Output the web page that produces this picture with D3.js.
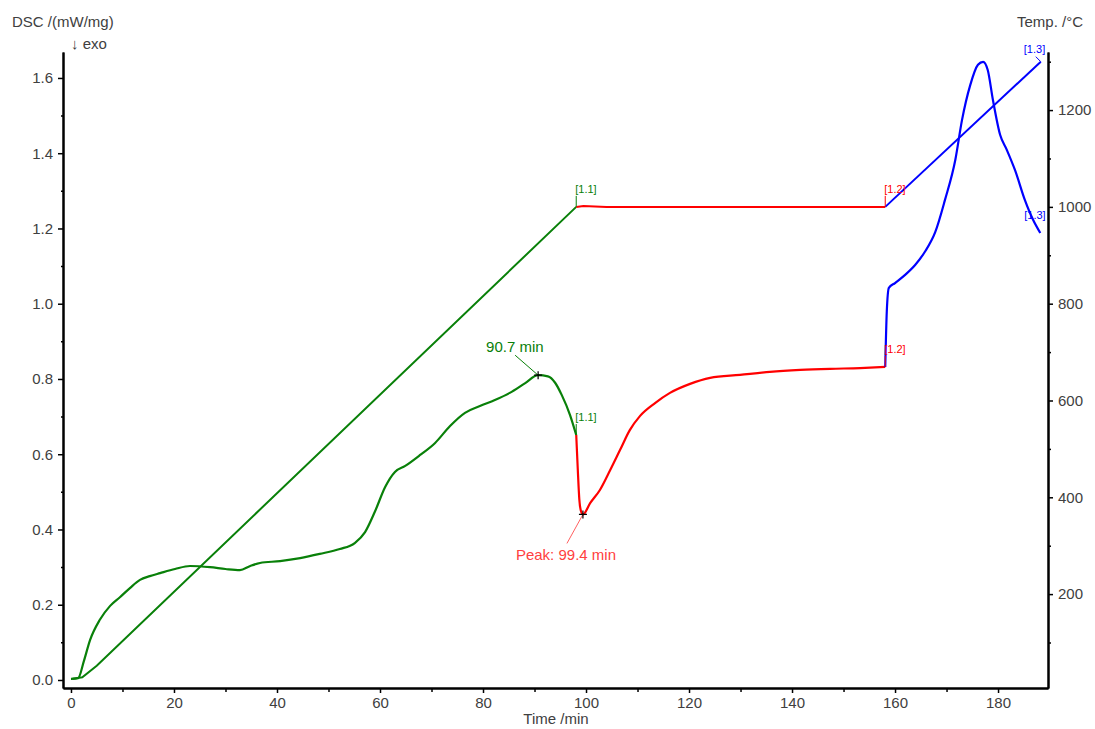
<!DOCTYPE html>
<html>
<head>
<meta charset="utf-8">
<script src="https://cdn.jsdelivr.net/npm/d3@7"></script>
<style>
  body { margin: 0; background: #fff; }
  svg text { font-family: "Liberation Sans", Arial, sans-serif; }
</style>
</head>
<body>
<div id="chart"></div>
<script>
'use strict';

// DSC segment 1.1 (heating), green
let seg1_t   = [0, 1.4, 2.5, 3.7, 5.6, 7.6, 9.5, 11.5, 13.4, 15.3, 17.3, 20.2, 23.1, 27, 30, 32.8, 34.8, 36.7, 40.6, 44.5, 48.3, 52.2, 55.1, 57.1, 59, 61, 62.9, 64.9, 67.8, 70.7, 73.6, 76.5, 79.4, 82.3, 85.2, 88.2, 90.7, 92.6, 94, 95.3, 96.9, 98.1];
let seg1_dsc = [0.003, 0.005, 0.05, 0.106, 0.16, 0.197, 0.22, 0.245, 0.266, 0.276, 0.284, 0.295, 0.303, 0.30, 0.295, 0.292, 0.303, 0.311, 0.316, 0.324, 0.335, 0.348, 0.364, 0.393, 0.447, 0.513, 0.553, 0.569, 0.598, 0.63, 0.675, 0.71, 0.728, 0.744, 0.763, 0.789, 0.81, 0.807, 0.79, 0.757, 0.704, 0.651];

// segment 1.2 (isothermal), red
let seg2_t   = [98.1, 98.4, 98.7, 99.0, 99.4, 100.8, 102.7, 104.7, 106.6, 108.5, 110.5, 113.4, 116.3, 120.2, 124.1, 129.9, 135.7, 141.6, 147.4, 153.2, 158.1];
let seg2_dsc = [0.651, 0.56, 0.48, 0.45, 0.44, 0.47, 0.505, 0.558, 0.611, 0.664, 0.702, 0.736, 0.763, 0.787, 0.803, 0.811, 0.819, 0.824, 0.827, 0.829, 0.832];

// segment 1.3 (heating), blue
let seg3_t   = [158.1, 158.4, 158.8, 160, 161.9, 163.9, 165.8, 167.8, 169.7, 171.7, 173, 174.6, 176.1, 177.1, 178, 179, 180.4, 181.7, 183.3, 185.2, 186.8, 188.2];
let seg3_dsc = [0.832, 0.98, 1.042, 1.055, 1.076, 1.103, 1.138, 1.19, 1.276, 1.382, 1.488, 1.581, 1.635, 1.643, 1.621, 1.542, 1.449, 1.409, 1.355, 1.276, 1.223, 1.188];

// temperature program
let temp1_t = [0.3, 2.2, 5, 98.1];
let temp1_T = [25, 28, 52, 1000];
let temp2_t = [98.1, 99.5, 104, 158.1];
let temp2_T = [1000, 1002, 1000, 1000];
let temp3_t = [158.1, 188.3];
let temp3_T = [1000, 1300];

let x_ticks = [0, 20, 40, 60, 80, 100, 120, 140, 160, 180];
let dsc_ticks = [0, 0.2, 0.4, 0.6, 0.8, 1.0, 1.2, 1.4, 1.6];
let temp_ticks = [200, 400, 600, 800, 1000, 1200];

let width = 1095, height = 729;
let green = '#098009', red = '#ff0000', blue = '#0000ff', txt = '#404040';

let svg = d3.select('#chart').append('svg')
    .attr('width', width)
    .attr('height', height);

let x = d3.scaleLinear().domain([-1.55, 189.7]).range([63, 1048]);
let y = d3.scaleLinear().domain([-0.0213, 1.669]).range([688, 52]);
let yT = d3.scaleLinear().domain([6, 1320]).range([688, 52]);

let zip = function(a, b) { return a.map(function(d, i) { return [d, b[i]]; }); };

// axes
let style_axis = function(g) {
    g.select('.domain').attr('stroke', '#000').attr('stroke-width', 2);
    g.selectAll('.tick line').attr('stroke', '#000').attr('stroke-width', 1.5);
    g.selectAll('.tick text').attr('fill', txt).attr('font-size', 15);
};

svg.append('g')
    .attr('transform', 'translate(0,688)')
    .call(d3.axisBottom(x).tickValues(d3.range(10, 190, 20)).tickSize(4).tickSizeOuter(0).tickFormat(''))
    .call(style_axis);
svg.append('g')
    .attr('transform', 'translate(0,688)')
    .call(d3.axisBottom(x).tickValues(x_ticks).tickSize(5).tickSizeOuter(0).tickPadding(4))
    .call(style_axis);

svg.append('g')
    .attr('transform', 'translate(63,0)')
    .call(d3.axisLeft(y).tickValues(d3.range(0.1, 1.6, 0.2)).tickSize(2).tickSizeOuter(0).tickFormat(''))
    .call(style_axis);
svg.append('g')
    .attr('transform', 'translate(63,0)')
    .call(d3.axisLeft(y).tickValues(dsc_ticks).tickSize(5).tickSizeOuter(0).tickPadding(5).tickFormat(d3.format('.1f')))
    .call(style_axis);

svg.append('g')
    .attr('transform', 'translate(1048,0)')
    .call(d3.axisRight(yT).tickValues(d3.range(100, 1301, 200)).tickSize(3).tickSizeOuter(0).tickFormat(''))
    .call(style_axis);
svg.append('g')
    .attr('transform', 'translate(1048,0)')
    .call(d3.axisRight(yT).tickValues(temp_ticks).tickSize(5).tickSizeOuter(0).tickPadding(5).tickFormat(d3.format('d')))
    .call(style_axis);

// axis titles
svg.append('text').attr('x', 12).attr('y', 27).attr('font-size', 15).attr('fill', txt).text('DSC /(mW/mg)');
svg.append('text').attr('x', 71).attr('y', 49).attr('font-size', 15).attr('fill', txt).text('\u2193 exo');
svg.append('text').attr('x', 1083).attr('y', 27).attr('font-size', 15).attr('fill', txt).attr('text-anchor', 'end').text('Temp. /\u00b0C');
svg.append('text').attr('x', 556).attr('y', 724).attr('font-size', 15).attr('fill', txt).attr('text-anchor', 'middle').text('Time /min');

// curves
let line_dsc = d3.line().x(function(d) { return x(d[0]); }).y(function(d) { return y(d[1]); }).curve(d3.curveMonotoneX);
let line_temp = d3.line().x(function(d) { return x(d[0]); }).y(function(d) { return yT(d[1]); });

let segs = [
    {t: seg1_t, v: seg1_dsc, c: green},
    {t: seg2_t, v: seg2_dsc, c: red},
    {t: seg3_t, v: seg3_dsc, c: blue}
];
let temps = [
    {t: temp1_t, v: temp1_T, c: green},
    {t: temp2_t, v: temp2_T, c: red},
    {t: temp3_t, v: temp3_T, c: blue}
];

temps.forEach(function(s) {
    svg.append('path').datum(zip(s.t, s.v))
        .attr('fill', 'none').attr('stroke', s.c).attr('stroke-width', 2)
        .attr('d', line_temp);
});
segs.forEach(function(s) {
    svg.append('path').datum(zip(s.t, s.v))
        .attr('fill', 'none').attr('stroke', s.c).attr('stroke-width', 2.2)
        .attr('d', line_dsc);
});

// segment markers [1.x]
let marker = function(px, py, label, c, dx, dy) {
    svg.append('line').attr('x1', px).attr('y1', py).attr('x2', px + dx).attr('y2', py + dy)
        .attr('stroke', c).attr('stroke-width', 1);
    svg.append('text').attr('x', px + dx - 1).attr('y', py + dy - 3).attr('font-size', 11).attr('fill', c).text(label);
};
marker(x(98.1), yT(1000), '[1.1]', green, 0, -11);
marker(x(98.1), y(0.651), '[1.1]', green, 0, -11);
marker(x(158.1), yT(1000), '[1.2]', red, 0, -11);
marker(x(158.1), y(0.832), '[1.2]', red, 0, -11);
// [1.3] labels sit left of the end points
svg.append('line').attr('x1', x(188.3)).attr('y1', yT(1300)).attr('x2', x(188.3) - 5).attr('y2', yT(1300) - 5).attr('stroke', blue);
svg.append('text').attr('x', x(188.3) - 17).attr('y', yT(1300) - 9).attr('font-size', 11).attr('fill', blue).text('[1.3]');
svg.append('text').attr('x', x(188.2) - 16).attr('y', y(1.188) - 14).attr('font-size', 11).attr('fill', blue).text('[1.3]');

// peak annotations
let cross = function(px, py) {
    svg.append('path').attr('d', 'M' + (px - 4) + ',' + py + 'H' + (px + 4) + 'M' + px + ',' + (py - 4) + 'V' + (py + 4))
        .attr('stroke', '#000').attr('stroke-width', 1.2);
};
svg.append('line').attr('x1', x(90.7) - 23).attr('y1', y(0.81) - 20).attr('x2', x(90.7)).attr('y2', y(0.81))
    .attr('stroke', green).attr('stroke-width', 1);
cross(x(90.7), y(0.81));
svg.append('text').attr('x', x(90.7) - 52).attr('y', y(0.81) - 23).attr('font-size', 15).attr('fill', green).text('90.7 min');

svg.append('line').attr('x1', x(99.4)).attr('y1', y(0.44)).attr('x2', x(99.4) - 16).attr('y2', y(0.44) + 29)
    .attr('stroke', '#ff6060').attr('stroke-width', 1);
cross(x(99.4), y(0.44));
svg.append('text').attr('x', x(99.4) - 67).attr('y', y(0.44) + 46).attr('font-size', 15).attr('fill', '#ff4040').text('Peak: 99.4 min');
</script>
</body>
</html>
